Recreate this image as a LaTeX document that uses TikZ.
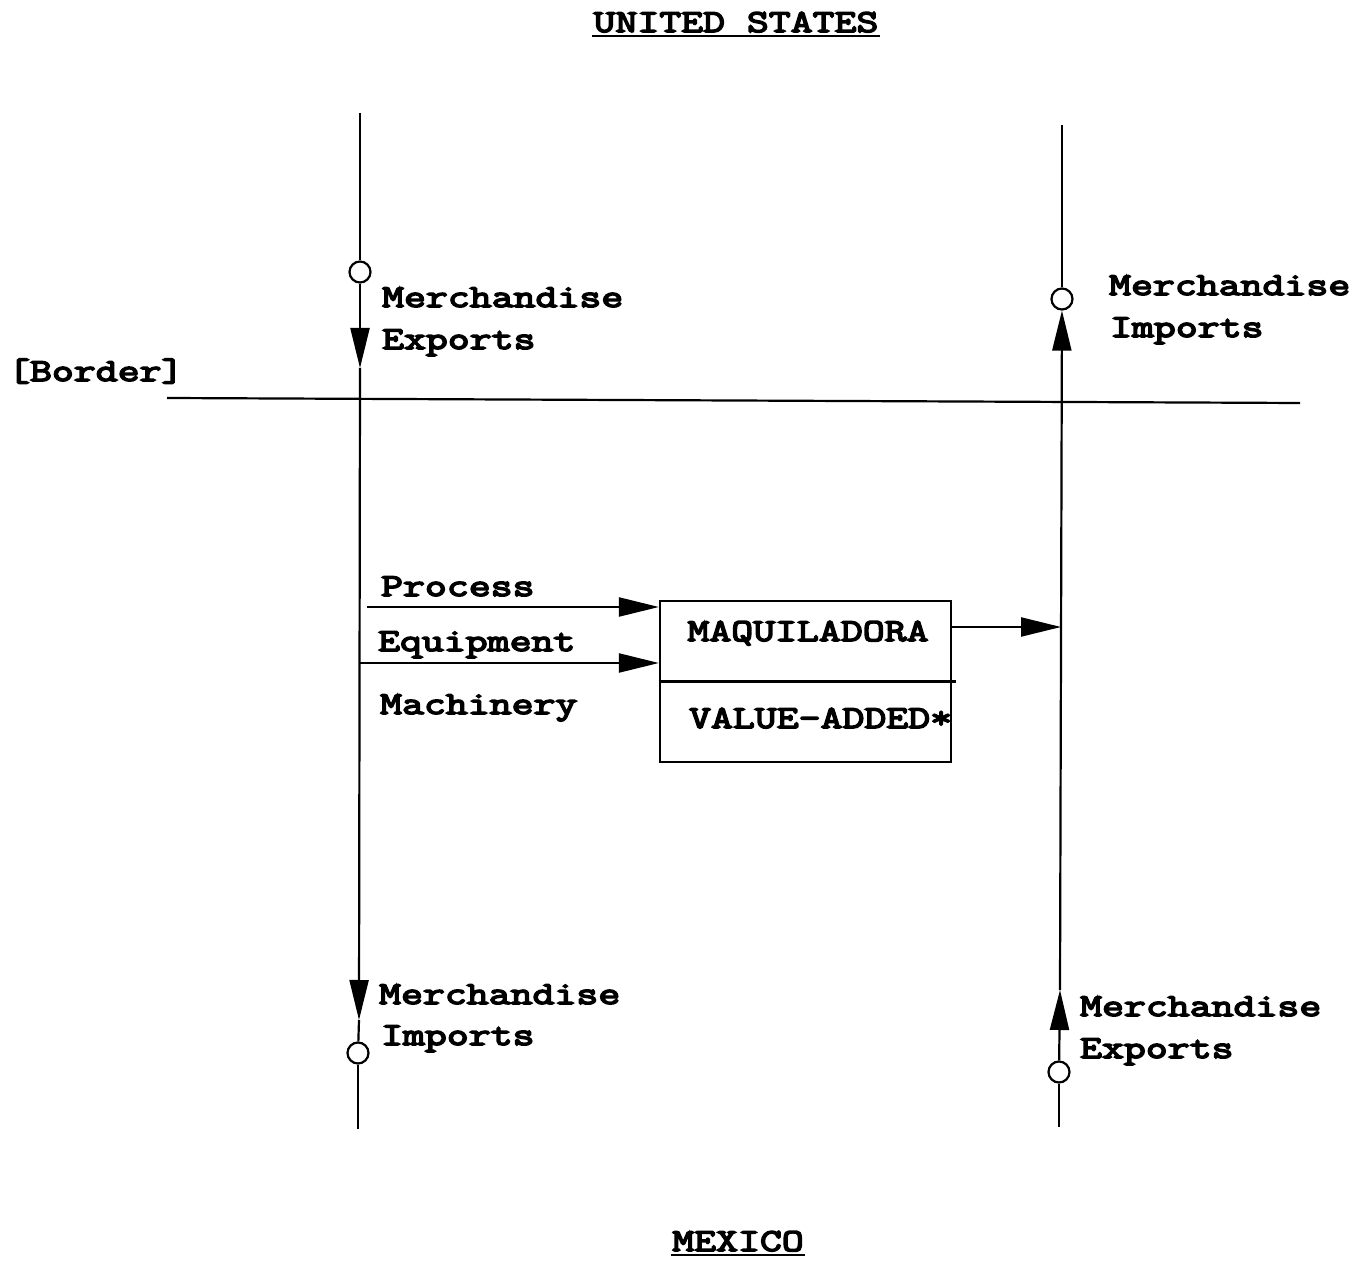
\documentclass[tikz,border=0pt]{standalone}
\usepackage{fontspec}
\newfontfamily\courfont[FakeStretch=1.33,FakeBold=5]{Latin Modern Mono}
\usetikzlibrary{arrows.meta}
\begin{document}
\begin{tikzpicture}[x=0.5pt,y=-0.5pt,line width=1.1pt,
  lbl/.style={anchor=base west,inner sep=0pt,font=\courfont\fontsize{16}{19}\selectfont},
  ttl/.style={anchor=base,inner sep=0pt,font=\courfont\fontsize{16}{19}\selectfont},
  ring/.style={circle,draw,line width=1.1pt,minimum size=10.5pt,inner sep=0pt,fill=white},
  tip/.style={-{Triangle[length=20pt,width=9.5pt]}}]
\useasboundingbox (0,0) rectangle (1366,1261);
% titles
\node[ttl] (us) at (736,32) {UNITED STATES};
\draw[line width=1.3pt] ([yshift=-2pt]us.base west) -- ([yshift=-2pt]us.base east);
\node[ttl] (mx) at (738,1251) {MEXICO};
\draw[line width=1.3pt] ([yshift=-2pt]mx.base west) -- ([yshift=-2pt]mx.base east);
% border
\node[lbl] (bl) at (7,381) {[Border]};
\coordinate (B1) at (167,398);
\coordinate (B2) at (1300,403);
\draw (B1) -- (B2);
% left line
\coordinate (LT) at (360,113);
\node[ring] (c1) at (360,272) {};
\coordinate (a1) at (360,368);
\coordinate (a2) at (359,1020);
\node[ring] (c2) at (358,1053) {};
\coordinate (LB) at (358,1129);
\draw (LT) -- (c1);
\draw[tip] (c1) -- (a1);
\draw[tip] (a1) -- (a2);
\draw (a2) -- (c2);
\draw (c2) -- (LB);
% right line
\coordinate (RT) at (1062,125);
\node[ring] (c3) at (1062,299) {};
\coordinate (rm) at (1061,627);
\coordinate (a4) at (1060,990);
\node[ring] (c4) at (1059,1072) {};
\coordinate (RB) at (1059,1127);
\draw (RT) -- (c3);
\draw[tip] (a4) -- (c3);
\draw[tip] (c4) -- (a4);
\draw (c4) -- (RB);
% box
\node[draw,minimum width=145.5pt,minimum height=80.5pt,inner sep=0pt] (box) at (805.5,681.5) {};
\draw (box.west) -- ([xshift=2pt]box.east);
\node[ttl] (maq) at (808,641) {MAQUILADORA};
\node[lbl] (va) at (688,728) {VALUE-ADDED*};
\coordinate (bo) at (951,627);
\draw[tip] (bo) -- (rm);
% inputs
\coordinate (p0) at (367,607);
\draw[tip] (p0) -- (box.west |- p0);
\coordinate (e0) at (360,663);
\draw[tip] (e0) -- (box.west |- e0);
\node[lbl] (pr) at (380,596) {Process};
\node[lbl] (eq) at (377,651) {Equipment};
\node[lbl] (ma) at (379,714) {Machinery};
% labels
\node[lbl] (me1) at (381,307) {Merchandise};
\node[lbl] (ex1) at (381,349) {Exports};
\node[lbl] (me2) at (1108,295) {Merchandise};
\node[lbl] (im2) at (1109,337) {Imports};
\node[lbl] (me3) at (378,1004) {Merchandise};
\node[lbl] (im3) at (380,1045) {Imports};
\node[lbl] (me4) at (1079,1016) {Merchandise};
\node[lbl] (ex4) at (1079,1058) {Exports};
\end{tikzpicture}
\end{document}
